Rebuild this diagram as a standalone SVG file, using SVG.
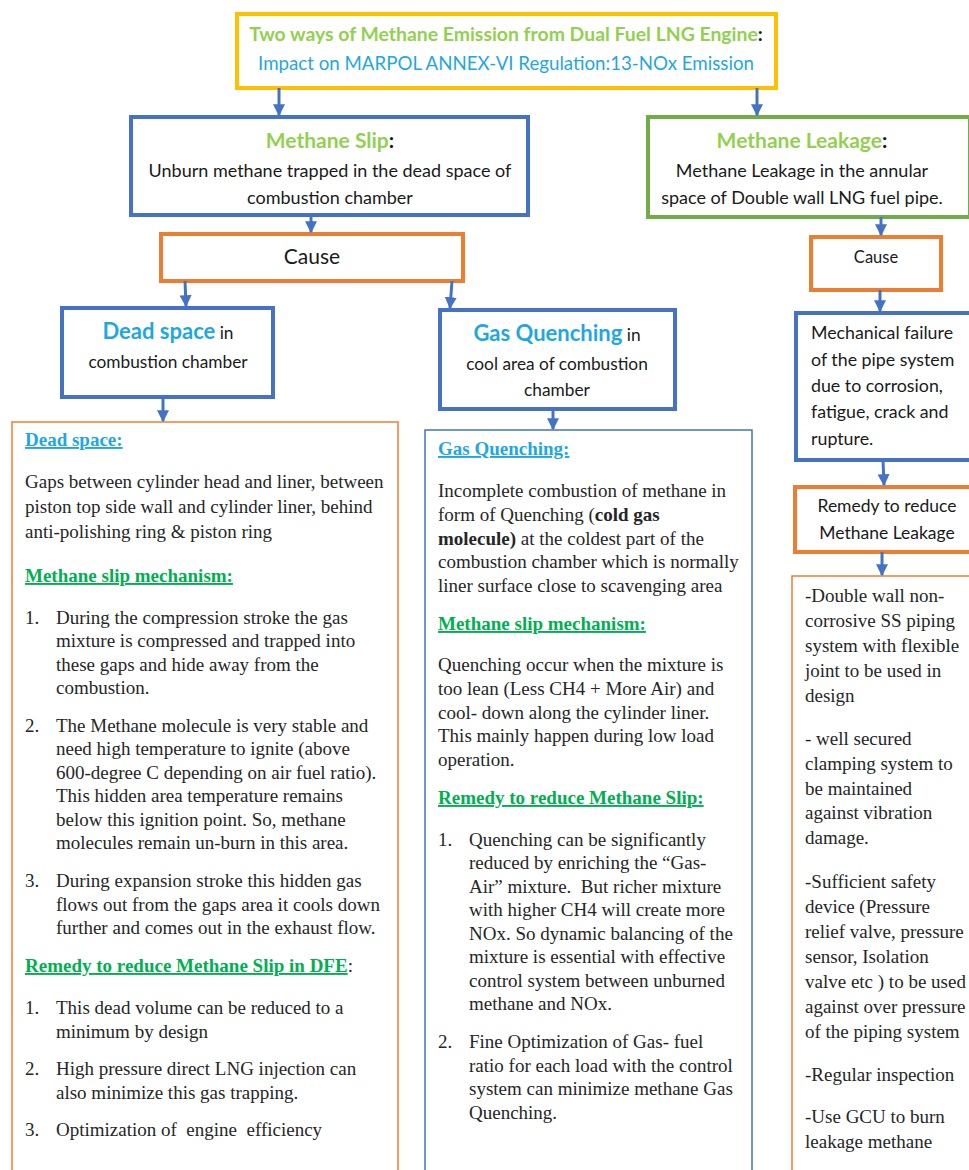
<svg xmlns="http://www.w3.org/2000/svg" width="969" height="1170" viewBox="0 0 969 1170">
<defs>
<marker id="ah" viewBox="0 0 10 10" refX="9" refY="5" markerWidth="4" markerHeight="4" orient="auto" markerUnits="strokeWidth">
<path d="M0,0 L10,5 L0,10 z" fill="#4472C4"/>
</marker>
<style>
.sans{font-family:Lato,"Open Sans","Liberation Sans",sans-serif;fill:#1a1a1a}
.ser{font-family:"Liberation Serif","Times New Roman",serif;font-size:19px;fill:#262626}
.tg{fill:#92D050;font-weight:bold}
.tb{fill:#1FA7E1}
.hb{fill:#1FA7E1;font-weight:bold;text-decoration:underline}
.hg{fill:#00B050;font-weight:bold;text-decoration:underline}
.bx{fill:#fff}
.conn line{stroke:#4472C4;stroke-width:3;marker-end:url(#ah)}
</style>
</defs>
<rect width="969" height="1170" fill="#fff"/>

<g id="title">
<rect class="bx" x="237" y="14" width="539" height="74" stroke="#FFC000" stroke-width="4"/>
<text class="sans" x="506" y="41" font-size="19.4" text-anchor="middle"><tspan class="tg">Two ways of Methane Emission from Dual Fuel LNG Engine</tspan><tspan font-weight="bold">:</tspan></text>
<text class="sans tb" x="506" y="70" font-size="18.7" text-anchor="middle">Impact on MARPOL ANNEX-VI Regulation:13-NOx Emission</text>
</g>

<g id="methane-slip">
<rect class="bx" x="131" y="117" width="397" height="98" stroke="#4472C4" stroke-width="4"/>
<text class="sans" x="330" y="148" font-size="21" text-anchor="middle"><tspan class="tg">Methane Slip</tspan><tspan font-weight="bold">:</tspan></text>
<text class="sans" x="330" y="177" font-size="18" text-anchor="middle">Unburn methane trapped in the dead space of</text>
<text class="sans" x="330" y="204" font-size="18" text-anchor="middle">combustion chamber</text>
</g>

<g id="methane-leakage">
<rect class="bx" x="648" y="117" width="322" height="100" stroke="#70AD47" stroke-width="4"/>
<text class="sans" x="802" y="148" font-size="21" text-anchor="middle"><tspan class="tg">Methane Leakage</tspan><tspan font-weight="bold">:</tspan></text>
<text class="sans" x="802" y="177" font-size="18" text-anchor="middle">Methane Leakage in the annular</text>
<text class="sans" x="802" y="204" font-size="18" text-anchor="middle">space of Double wall LNG fuel pipe.</text>
</g>

<g id="cause-left">
<rect class="bx" x="161" y="234" width="302" height="47" stroke="#ED7D31" stroke-width="4"/>
<text class="sans" x="312" y="264" font-size="21" text-anchor="middle">Cause</text>
</g>

<g id="cause-right">
<rect class="bx" x="811" y="237" width="130" height="53" stroke="#ED7D31" stroke-width="4"/>
<text class="sans" x="876" y="263" font-size="16.5" text-anchor="middle">Cause</text>
</g>

<g id="dead-space">
<rect class="bx" x="62" y="308" width="211" height="89" stroke="#4472C4" stroke-width="4"/>
<text class="sans" x="168" y="339" font-size="17.3" text-anchor="middle"><tspan class="tb" font-weight="bold" font-size="22">Dead space</tspan> in</text>
<text class="sans" x="168" y="368" font-size="17.3" text-anchor="middle">combustion chamber</text>
</g>

<g id="gas-quenching">
<rect class="bx" x="440" y="310" width="235" height="99" stroke="#4472C4" stroke-width="4"/>
<text class="sans" x="557" y="341" font-size="17.3" text-anchor="middle"><tspan class="tb" font-weight="bold" font-size="22">Gas Quenching</tspan> in</text>
<text class="sans" x="557" y="370" font-size="17.3" text-anchor="middle">cool area of combustion</text>
<text class="sans" x="557" y="396" font-size="17.3" text-anchor="middle">chamber</text>
</g>

<g id="mechanical-failure">
<rect class="bx" x="796" y="313" width="176" height="147" stroke="#4472C4" stroke-width="4"/>
<text class="sans" font-size="17.8"><tspan x="811" y="339">Mechanical failure</tspan><tspan x="811" y="366">of the pipe system</tspan><tspan x="811" y="392">due to corrosion,</tspan><tspan x="811" y="418">fatigue, crack and</tspan><tspan x="811" y="445">rupture.</tspan></text>
</g>

<g id="remedy-leakage">
<rect class="bx" x="795" y="487" width="177" height="65" stroke="#ED7D31" stroke-width="4"/>
<text class="sans" x="887" y="512" font-size="17.5" text-anchor="middle">Remedy to reduce</text>
<text class="sans" x="887" y="539" font-size="17.5" text-anchor="middle">Methane Leakage</text>
</g>

<g id="dead-space-detail">
<rect class="bx" x="12" y="422" width="386" height="760" stroke="#ED7D31" stroke-width="1.5"/>
<text class="ser">
<tspan class="hb" x="25" y="446">Dead space:</tspan>
<tspan x="25" y="488">Gaps between cylinder head and liner, between</tspan>
<tspan x="25" y="513">piston top side wall and cylinder liner, behind</tspan>
<tspan x="25" y="538">anti-polishing ring &amp; piston ring</tspan>
<tspan class="hg" x="25" y="582">Methane slip mechanism:</tspan>
<tspan x="25" y="624">1.</tspan><tspan x="56" y="624">During the compression stroke the gas</tspan>
<tspan x="56" y="647">mixture is compressed and trapped into</tspan>
<tspan x="56" y="671">these gaps and hide away from the</tspan>
<tspan x="56" y="694">combustion.</tspan>
<tspan x="25" y="732">2.</tspan><tspan x="56" y="732">The Methane molecule is very stable and</tspan>
<tspan x="56" y="755">need high temperature to ignite (above</tspan>
<tspan x="56" y="779">600-degree C depending on air fuel ratio).</tspan>
<tspan x="56" y="802">This hidden area temperature remains</tspan>
<tspan x="56" y="826">below this ignition point. So, methane</tspan>
<tspan x="56" y="849">molecules remain un-burn in this area.</tspan>
<tspan x="25" y="887">3.</tspan><tspan x="56" y="887">During expansion stroke this hidden gas</tspan>
<tspan x="56" y="911">flows out from the gaps area it cools down</tspan>
<tspan x="56" y="934">further and comes out in the exhaust flow.</tspan>
<tspan class="hg" x="25" y="972">Remedy to reduce Methane Slip in DFE</tspan><tspan>:</tspan>
<tspan x="25" y="1014">1.</tspan><tspan x="56" y="1014">This dead volume can be reduced to a</tspan>
<tspan x="56" y="1038">minimum by design</tspan>
<tspan x="25" y="1075">2.</tspan><tspan x="56" y="1075">High pressure direct LNG injection can</tspan>
<tspan x="56" y="1099">also minimize this gas trapping.</tspan>
<tspan x="25" y="1136">3.</tspan><tspan x="56" y="1136" xml:space="preserve">Optimization of  engine  efficiency</tspan>
</text>
</g>

<g id="gas-quenching-detail">
<rect class="bx" x="425" y="430" width="327" height="752" stroke="#4472C4" stroke-width="1.5"/>
<text class="ser">
<tspan class="hb" x="438" y="455">Gas Quenching:</tspan>
<tspan x="438" y="497">Incomplete combustion of methane in</tspan>
<tspan x="438" y="521">form of Quenching (<tspan font-weight="bold">cold gas</tspan></tspan>
<tspan x="438" y="545" font-weight="bold">molecule)</tspan><tspan> at the coldest part of the</tspan>
<tspan x="438" y="568">combustion chamber which is normally</tspan>
<tspan x="438" y="592">liner surface close to scavenging area</tspan>
<tspan class="hg" x="438" y="630">Methane slip mechanism:</tspan>
<tspan x="438" y="671">Quenching occur when the mixture is</tspan>
<tspan x="438" y="695">too lean (Less CH4 + More Air) and</tspan>
<tspan x="438" y="719">cool- down along the cylinder liner.</tspan>
<tspan x="438" y="742">This mainly happen during low load</tspan>
<tspan x="438" y="766">operation.</tspan>
<tspan class="hg" x="438" y="804">Remedy to reduce Methane Slip:</tspan>
<tspan x="438" y="846">1.</tspan><tspan x="469" y="846">Quenching can be significantly</tspan>
<tspan x="469" y="869">reduced by enriching the “Gas-</tspan>
<tspan x="469" y="893" xml:space="preserve">Air” mixture.  But richer mixture</tspan>
<tspan x="469" y="916">with higher CH4 will create more</tspan>
<tspan x="469" y="940">NOx. So dynamic balancing of the</tspan>
<tspan x="469" y="963">mixture is essential with effective</tspan>
<tspan x="469" y="987">control system between unburned</tspan>
<tspan x="469" y="1010">methane and NOx.</tspan>
<tspan x="438" y="1048">2.</tspan><tspan x="469" y="1048">Fine Optimization of Gas- fuel</tspan>
<tspan x="469" y="1072">ratio for each load with the control</tspan>
<tspan x="469" y="1095">system can minimize methane Gas</tspan>
<tspan x="469" y="1119">Quenching.</tspan>
</text>
</g>

<g id="leakage-remedy-detail">
<rect class="bx" x="792" y="576" width="190" height="606" stroke="#ED7D31" stroke-width="1.5"/>
<text class="ser">
<tspan x="805" y="602">-Double wall non-</tspan>
<tspan x="805" y="627">corrosive SS piping</tspan>
<tspan x="805" y="652">system with flexible</tspan>
<tspan x="805" y="677">joint to be used in</tspan>
<tspan x="805" y="702">design</tspan>
<tspan x="805" y="745">- well secured</tspan>
<tspan x="805" y="770">clamping system to</tspan>
<tspan x="805" y="795">be maintained</tspan>
<tspan x="805" y="819">against vibration</tspan>
<tspan x="805" y="844">damage.</tspan>
<tspan x="805" y="888">-Sufficient safety</tspan>
<tspan x="805" y="913">device (Pressure</tspan>
<tspan x="805" y="938">relief valve, pressure</tspan>
<tspan x="805" y="963">sensor, Isolation</tspan>
<tspan x="805" y="988">valve etc ) to be used</tspan>
<tspan x="805" y="1013">against over pressure</tspan>
<tspan x="805" y="1038">of the piping system</tspan>
<tspan x="805" y="1081">-Regular inspection</tspan>
<tspan x="805" y="1123">-Use GCU to burn</tspan>
<tspan x="805" y="1148">leakage methane</tspan>
</text>
</g>

<g id="connectors" class="conn">
<line x1="279" y1="88" x2="279" y2="115"/>
<line x1="757" y1="88" x2="757" y2="115"/>
<line x1="311" y1="215" x2="311" y2="232"/>
<line x1="881" y1="217" x2="881" y2="235"/>
<line x1="185" y1="281" x2="186" y2="306"/>
<line x1="452" y1="281" x2="450" y2="308"/>
<line x1="163" y1="397" x2="163" y2="421"/>
<line x1="553" y1="409" x2="553" y2="429"/>
<line x1="880" y1="290" x2="880" y2="311"/>
<line x1="883" y1="460" x2="884" y2="485"/>
<line x1="882" y1="552" x2="882" y2="575"/>
</g>
</svg>
